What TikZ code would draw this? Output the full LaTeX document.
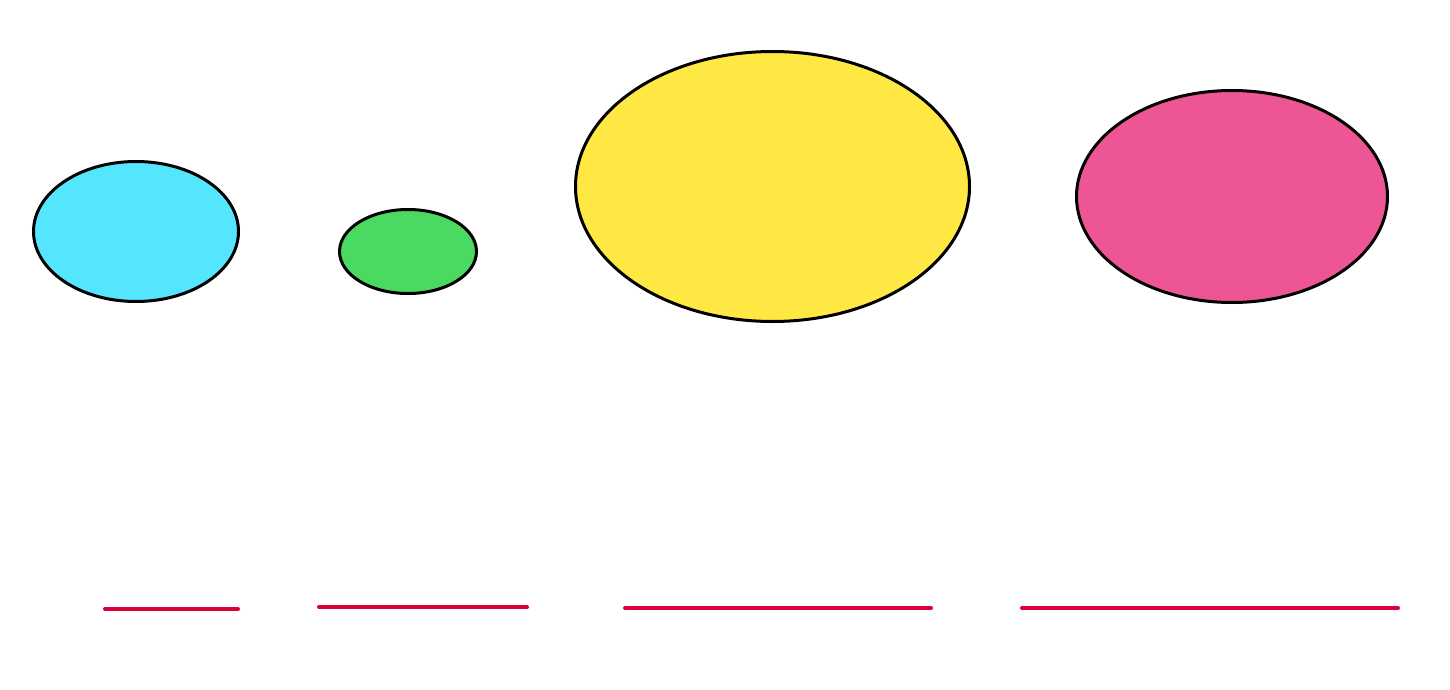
\documentclass[tikz,border=0pt]{standalone}
\usepackage{tikz}
\usetikzlibrary{shapes.geometric, positioning, calc}

\definecolor{skyblob}{HTML}{55E6FF}
\definecolor{leafblob}{HTML}{4ADA62}
\definecolor{sunblob}{HTML}{FFE744}
\definecolor{roseblob}{HTML}{EE5594}
\definecolor{barred}{HTML}{D9003A}

\tikzset{
  blob/.style={ellipse,draw=black,line width=1.5pt,inner sep=0pt},
  bar/.style={draw=barred,line width=2pt,line cap=round}
}

\begin{document}
\begin{tikzpicture}[x=0.5pt,y=-0.5pt]
\useasboundingbox (0,0) rectangle (1450,690);
% the four blobs
\node[blob,fill=skyblob,minimum width=102.5pt,minimum height=70pt]  (cyan)   at (136,231.5) {};
\node[blob,fill=leafblob,minimum width=68.5pt,minimum height=42pt]  (green)  at (408,251.5) {};
\node[blob,fill=sunblob,minimum width=197pt,minimum height=135pt]   (yellow) at (772.5,186.5) {};
\node[blob,fill=roseblob,minimum width=155.5pt,minimum height=106pt] (pink)  at (1232,196.5) {};
% the bars underneath
\coordinate (c0) at (105,609);  \coordinate (c1) at (238,609);
\coordinate (g0) at (319,607);  \coordinate (g1) at (527,607);
\coordinate (y0) at (625,608);  \coordinate (y1) at (931,608);
\coordinate (p0) at (1022,608); \coordinate (p1) at (1398,608);
\draw[bar] (c0) -- (c1);
\draw[bar] (g0) -- (g1);
\draw[bar] (y0) -- (y1);
\draw[bar] (p0) -- (p1);
\end{tikzpicture}
\end{document}
